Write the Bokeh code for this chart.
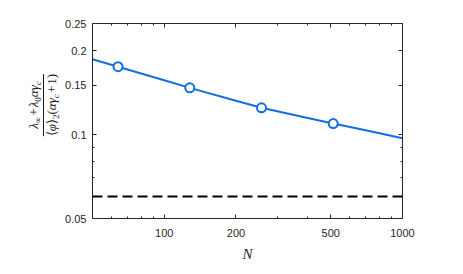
from bokeh.plotting import figure
from bokeh.layouts import row
from bokeh.models import (FixedTicker, CustomJSTickFormatter, LogAxis, Span, Div)
from bokeh.embed import file_html
from bokeh.resources import INLINE

# ---- data ----
curve_N = [50, 64, 100, 128, 200, 256, 400, 512, 700, 1000]
curve_val = [0.186, 0.175, 0.1564, 0.147, 0.1322, 0.1247, 0.1147, 0.1095, 0.1035, 0.097]
marker_N = [64, 128, 256, 512]
marker_val = [0.175, 0.147, 0.1247, 0.1095]
limit_value = 0.06

x_major = [100, 200, 500, 1000]
x_minor = [60, 70, 80, 90, 300, 400, 600, 700, 800, 900]
y_major = [0.05, 0.1, 0.15, 0.2, 0.25]
y_minor = [0.06, 0.07, 0.08, 0.09]
x_limits = (50, 1000)
y_limits = (0.05, 0.25)

BLUE = "#1170dc"
AX = "#262626"
H = 266
LW = 60

p = figure(width=395, height=H, x_axis_type="log", y_axis_type="log",
           x_range=x_limits, y_range=y_limits,
           output_backend="svg", toolbar_location=None,
           min_border_left=32, min_border_right=53, min_border_top=23, min_border_bottom=48)
p.xgrid.visible = False
p.ygrid.visible = False
p.outline_line_color = None
p.background_fill_color = "white"
p.border_fill_color = "white"

fmt = CustomJSTickFormatter(code="return tick.toString();")
blank = CustomJSTickFormatter(code="return '';")

def style_axis(ax, ticks, minor, show_labels):
    ax.ticker = FixedTicker(ticks=ticks, minor_ticks=minor)
    ax.formatter = fmt if show_labels else blank
    ax.axis_line_color = AX
    ax.axis_line_width = 1
    ax.major_tick_line_color = AX
    ax.minor_tick_line_color = AX
    ax.major_tick_in = 4
    ax.major_tick_out = 0
    ax.minor_tick_in = 2
    ax.minor_tick_out = 0
    ax.major_label_text_font = "Liberation Sans"
    ax.major_label_text_font_size = "11px" if show_labels else "0px"
    ax.major_label_text_color = AX

xb = p.below[0]
yl = p.left[0]
style_axis(xb, x_major, x_minor, True)
style_axis(yl, y_major, y_minor, True)
xb.major_label_standoff = 10
yl.major_label_standoff = 6
xb.axis_label = "N"
xb.axis_label_text_font = "Liberation Serif"
xb.axis_label_text_font_style = "italic"
xb.axis_label_text_font_size = "15px"
xb.axis_label_text_color = AX
xb.axis_label_standoff = 6

top = LogAxis()
style_axis(top, x_major, x_minor, False)
p.add_layout(top, "above")
right = LogAxis()
style_axis(right, y_major, y_minor, False)
p.add_layout(right, "right")

# dashed reference level
p.add_layout(Span(location=limit_value, dimension="width", line_color="black",
                  line_width=2, line_dash="10 5"))

# curve and markers
p.line(curve_N, curve_val, line_color=BLUE, line_width=2)
p.scatter(marker_N, marker_val, marker="circle", size=9, line_color=BLUE,
          line_width=2, fill_color="white")

# ---- y label: rotated HTML fraction (real text) ----
sub = "font-size:9px;vertical-align:-3px;line-height:0;"
frac_html = f"""
<div style="position:relative;width:{LW}px;height:{H}px;">
  <div style="position:absolute;left:43px;top:105px;transform:translate(-50%,-50%) rotate(-90deg);
              font-family:'Liberation Serif',serif;font-size:13px;color:#1a1a1a;
              white-space:nowrap;text-align:center;line-height:14px;">
    <div style="border-bottom:1px solid #1a1a1a;padding:0 1px 2px 1px;"><i>λ</i><span style="{sub}">∞</span>&#8202;+&#8202;<i>λ</i><span style="{sub}">0</span><i>αγ</i><span style="{sub}"><i>c</i></span></div>
    <div style="padding-top:1px;">⟨<i>φ</i>⟩<span style="{sub}">2</span>(<i>αγ</i><span style="{sub}"><i>c</i></span>&#8202;+&#8202;1)</div>
  </div>
</div>
"""
label_div = Div(text=frac_html, width=LW, height=H, margin=0)

open("out.html", "w").write(file_html(row(label_div, p), INLINE))
